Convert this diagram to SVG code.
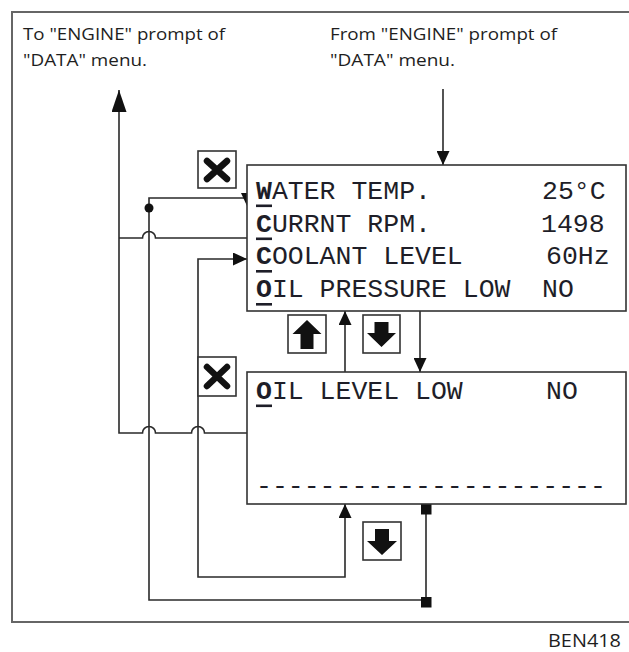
<svg xmlns="http://www.w3.org/2000/svg" width="629" height="652" viewBox="0 0 629 652">
<style>
.frame{fill:none;stroke:#666;stroke-width:2}
.box{fill:#fff;stroke:#333;stroke-width:1.6}
.ln{fill:none;stroke:#2a2a2a;stroke-width:1.6}
.mono{font-family:"Courier New","Nimbus Mono PS","FreeMono","Liberation Mono",monospace;font-size:26.5px;fill:#1e1e28}
.cap{font-family:"Open Sans","Liberation Sans",sans-serif;font-size:16.5px;fill:#1e1e1e}
.ul{fill:#1e1e28}
.icon{fill:#111}
.xi{fill:none;stroke:#111;stroke-width:6.5;stroke-linecap:round}
</style>
<defs>
<marker id="ah" markerUnits="userSpaceOnUse" markerWidth="14" markerHeight="13" refX="14" refY="6.5" orient="auto-start-reverse">
<path d="M0,0 L14,6.5 L0,13 z" fill="#111"/>
</marker>
<marker id="ahBig" markerUnits="userSpaceOnUse" markerWidth="22" markerHeight="15" refX="22" refY="7.5" orient="auto">
<path d="M0,0 L22,7.5 L0,15 z" fill="#111"/>
</marker>
</defs>
<rect class="frame" x="12" y="12" width="640" height="610"/>
<g id="caption-to">
<text class="cap" x="23" y="40" textLength="202" lengthAdjust="spacingAndGlyphs">To "ENGINE" prompt of</text>
<text class="cap" x="23" y="66" textLength="124" lengthAdjust="spacingAndGlyphs">"DATA" menu.</text>
</g>
<g id="caption-from">
<text class="cap" x="330" y="40" textLength="227" lengthAdjust="spacingAndGlyphs">From "ENGINE" prompt of</text>
<text class="cap" x="330" y="66" textLength="125" lengthAdjust="spacingAndGlyphs">"DATA" menu.</text>
</g>
<g id="connectors">
<line class="ln" x1="443" y1="89" x2="443" y2="165" marker-end="url(#ah)"/>
<path class="ln" d="M247,433 H204.5 A6.5,6.5 0 0 0 191.5,433 H155.5 A6.5,6.5 0 0 0 142.5,433 H119 V90" marker-end="url(#ahBig)"/>
<path class="ln" d="M247,238 H155.5 A6.5,6.5 0 0 0 142.5,238 H119"/>
<path class="ln" d="M426,504 V600 H149 V198 H247"/>
<polygon points="241,193 253,193 247,206" fill="#111"/>
<circle cx="149" cy="208" r="4.5" fill="#111"/>
<rect x="421" y="504" width="10.5" height="10.5" fill="#111"/>
<rect x="421" y="597" width="10.5" height="10.5" fill="#111"/>
<path class="ln" d="M345,504 V577 H198 V259 H247" marker-start="url(#ah)" marker-end="url(#ah)"/>
<line class="ln" x1="345" y1="372" x2="345" y2="311" marker-end="url(#ah)"/>
<line class="ln" x1="420" y1="311" x2="420" y2="372" marker-end="url(#ah)"/>
</g>
<g id="screen1">
<rect class="box" x="247" y="165" width="379" height="146"/>
<text class="mono" x="256" y="199"><tspan font-weight="bold">W</tspan>ATER TEMP.</text>
<text class="mono" x="542" y="199">25°C</text>
<rect class="ul" x="256" y="204.5" width="16" height="2.6"/>
<text class="mono" x="256" y="231.5"><tspan font-weight="bold">C</tspan>URRNT RPM.</text>
<text class="mono" x="541" y="231.5">1498</text>
<rect class="ul" x="256" y="237.5" width="16" height="2.6"/>
<text class="mono" x="256" y="264"><tspan font-weight="bold">C</tspan>OOLANT LEVEL</text>
<text class="mono" x="546" y="264">60Hz</text>
<rect class="ul" x="256" y="270" width="16" height="2.6"/>
<text class="mono" x="256" y="297"><tspan font-weight="bold">O</tspan>IL PRESSURE LOW</text>
<text class="mono" x="542" y="297">NO</text>
<rect class="ul" x="256" y="303" width="16" height="2.6"/>
</g>
<g id="screen2">
<rect class="box" x="247" y="372" width="379" height="132"/>
<text class="mono" x="256" y="398.5"><tspan font-weight="bold">O</tspan>IL LEVEL LOW</text>
<text class="mono" x="546" y="398.5">NO</text>
<rect class="ul" x="256" y="404.5" width="16" height="2.6"/>
<text class="mono" x="256" y="494">----------------------</text>
</g>
<g id="btn-x1">
<rect class="box" x="198" y="151" width="38" height="37"/>
<path class="xi" d="M207,161 L227,179 M227,161 L207,179"/>
</g>
<g id="btn-x2">
<rect class="box" x="198" y="357" width="38" height="39"/>
<path class="xi" d="M207,367 L227,386 M227,367 L207,386"/>
</g>
<g id="btn-up">
<rect class="box" x="288" y="315" width="38" height="38"/>
<polygon class="icon" points="307,320 321.5,334 313.5,334 313.5,349 300.5,349 300.5,334 292.5,334"/>
</g>
<g id="btn-down1">
<rect class="box" x="363" y="315" width="37" height="38"/>
<polygon class="icon" points="374.5,322 388.5,322 388.5,333 396,333 381.5,347 367,333 374.5,333"/>
</g>
<g id="btn-down2">
<rect class="box" x="363" y="522" width="38" height="38"/>
<polygon class="icon" points="375,529 389,529 389,541 397,541 382,555 367,541 375,541"/>
</g>
<g id="figure-id">
<text class="cap" x="548" y="647" style="font-size:19px" textLength="73" lengthAdjust="spacingAndGlyphs">BEN418</text>
</g>
</svg>
